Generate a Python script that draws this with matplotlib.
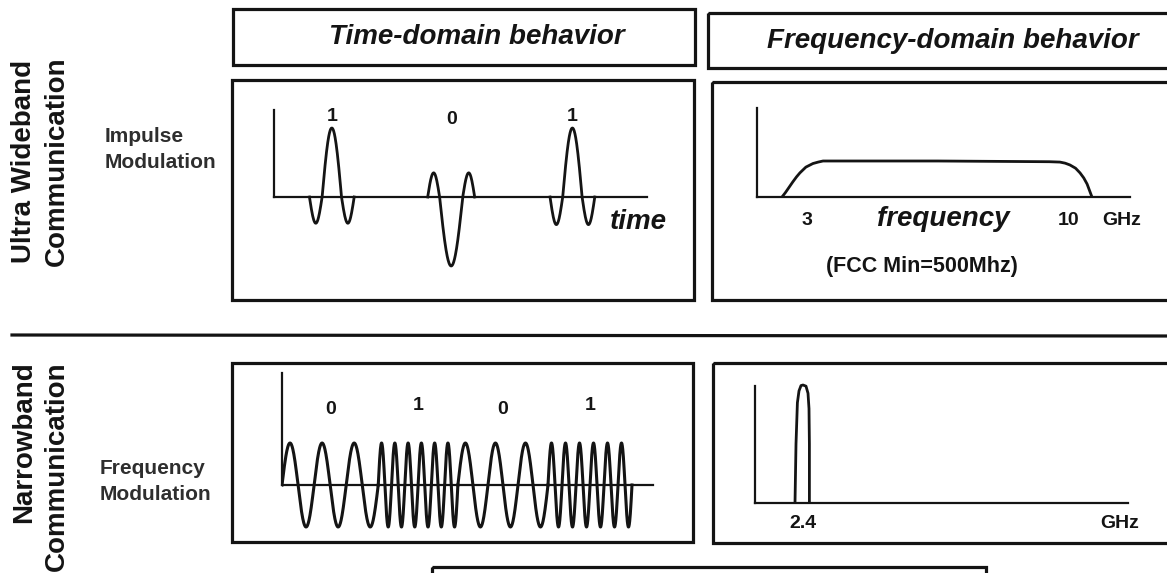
import numpy as np
import matplotlib.pyplot as plt
from matplotlib.patches import Rectangle

plt.rcParams['font.family'] = ['Liberation Sans', 'DejaVu Sans']

W, H = 1167, 573
INK = '#141414'

# labels
row_labels = [["Ultra Wideband", "Communication"], ["Narrowband", "Communication"]]
mod_labels = [["Impulse", "Modulation"], ["Frequency", "Modulation"]]
headers = ["Time-domain behavior", "Frequency-domain behavior"]

# impulse modulation (UWB, time domain)
uwb_bits = [1, 0, 1]
uwb_pulse_times = [1.55, 4.75, 8.0]
uwb_main_lobe = [0.52, 0.62, 0.52]     # width of the central lobe
uwb_side_width = [0.34, 0.32, 0.34]    # width of each side lobe
uwb_side_lobe = [0.38, 0.35, 0.4]      # side lobe height / main lobe height
uwb_time_lim = (0, 10)

# UWB spectrum
uwb_freq = [2.33, 2.42, 2.52, 2.62, 2.72, 2.81, 2.97, 3.16, 3.3, 3.43, 6.5,
            9.5, 9.78, 9.92, 10.05, 10.2, 10.32, 10.42, 10.51, 10.64]
uwb_level = [0, 0.12, 0.27, 0.42, 0.56, 0.67, 0.83, 0.93, 0.97, 1.0, 1.0,
             0.98, 0.97, 0.94, 0.89, 0.8, 0.67, 0.53, 0.36, 0]
uwb_freq_ticks = [3, 10]
uwb_freq_lim = (1.66, 11.66)

# frequency modulation (narrowband, time domain)
nb_bits = [0, 1, 0, 1]
nb_bit_edges = [0, 1.1, 2.01, 3.04, 4.0]
nb_cycles_per_bit = {0: 3, 1: 6}
nb_time_lim = (0, 4.24)

# narrowband spectrum
nb_freq = [2.0, 2.05, 2.12, 2.2, 2.3, 2.4, 2.55, 2.65, 2.7, 2.72, 2.72]
nb_level = [0, 0.5, 0.85, 0.95, 0.995, 1.0, 0.99, 0.93, 0.8, 0.5, 0]
nb_freq_ticks = [2.4]
nb_freq_lim = (0, 18.65)


def px_axes(fig, x0, y0, x1, y1):
    # axes placed by pixel box (y measured from the top)
    a = fig.add_axes([x0 / W, 1 - y1 / H, (x1 - x0) / W, (y1 - y0) / H])
    a.patch.set_alpha(0)
    a.set_xticks([])
    a.set_yticks([])
    for s in ['top', 'right']:
        a.spines[s].set_visible(False)
    for s in ['left', 'bottom']:
        a.spines[s].set_linewidth(1.6)
        a.spines[s].set_color(INK)
    return a


def pulse(t0, sign, wm, ws, r):
    # centre lobe plus one opposite lobe each side
    xm = np.linspace(-wm / 2, wm / 2, 80)
    xs = np.linspace(0, ws, 40)
    x = np.concatenate([-wm / 2 - ws + xs, xm, wm / 2 + xs])
    y = np.concatenate([-r * np.sin(np.pi * xs / ws), np.cos(np.pi * xm / wm),
                        -r * np.sin(np.pi * xs / ws)])
    return t0 + x, sign * y


fig = plt.figure(figsize=(W / 100, H / 100), dpi=100)
ax = fig.add_axes([0, 0, 1, 1])
ax.set_xlim(0, W)
ax.set_ylim(H, 0)
ax.axis('off')

# frames
boxes = [(233, 9, 695, 65), (708, 13, 1185, 68),
         (232, 80, 694, 300), (712, 82, 1185, 300),
         (232, 363, 693, 542), (713, 363, 1185, 543),
         (432, 567, 986, 600)]
for x0, y0, x1, y1 in boxes:
    ax.add_patch(Rectangle((x0, y0), x1 - x0, y1 - y0, fill=False,
                           lw=2.3, ec=INK, clip_on=False))
ax.plot([12, W], [335, 336], color=INK, lw=2.3)

hfont = dict(fontsize=20, fontweight='bold', fontstyle='italic', color=INK,
             ha='center', va='center')
ax.text(477, 37, headers[0], **hfont)
ax.text(953, 41, headers[1], **hfont)

rfont = dict(fontsize=20, fontweight='bold', color=INK, rotation=90, ha='center')
ax.text(24, 161, row_labels[0][0], va='center', **rfont)
ax.text(57, 161, row_labels[0][1], va='center', **rfont)
ax.text(24, 361, row_labels[1][0], va='top', **rfont)
ax.text(57, 361, row_labels[1][1], va='top', **rfont)

mfont = dict(fontsize=15, fontweight='bold', color='#2e2e2e', ha='left', va='center')
ax.text(105, 136, mod_labels[0][0], **mfont)
ax.text(105, 162, mod_labels[0][1], **mfont)
ax.text(100, 469, mod_labels[1][0], **mfont)
ax.text(100, 494, mod_labels[1][1], **mfont)

bit_font = dict(fontsize=14, fontweight='bold', color=INK, ha='center', va='center')

# --- UWB time domain ---
a1 = px_axes(fig, 274, 100, 647, 290)
a1.set_xlim(*uwb_time_lim)
a1.set_ylim(-(290 - 197) / 69, (197 - 100) / 69)
a1.spines['bottom'].set_position(('data', 0))
a1.spines['left'].set_bounds(0, (197 - 110) / 69)
for b, t0, wm, ws, r in zip(uwb_bits, uwb_pulse_times, uwb_main_lobe,
                            uwb_side_width, uwb_side_lobe):
    xx, yy = pulse(t0, 1 if b == 1 else -1, wm, ws, r)
    a1.plot(xx, yy, color=INK, lw=2.0)
    a1.text(t0, 1.16 if b == 1 else 1.12, str(b), **bit_font)
a1.text(9.0, -0.36, "time", fontsize=20, fontweight='bold', fontstyle='italic',
        color=INK, ha='left', va='center', clip_on=False)

# --- UWB frequency domain ---
a2 = px_axes(fig, 757, 108, 1130, 197)
a2.set_xlim(*uwb_freq_lim)
a2.set_ylim(0, (197 - 108) / 36)
a2.plot(uwb_freq, uwb_level, color=INK, lw=2.0, solid_joinstyle='round')
tfont = dict(fontsize=14, fontweight='bold', color=INK, ha='center', va='center')
for f in uwb_freq_ticks:
    a2.text(f, -0.64, str(f), **tfont)
a2.text(11.45, -0.64, "GHz", **tfont)
a2.text(6.65, -0.62, "frequency", fontsize=20, fontweight='bold', fontstyle='italic',
        color=INK, ha='center', va='center')
a2.text(6.08, -1.94, "(FCC Min=500Mhz)", fontsize=15.5, fontweight='bold',
        color=INK, ha='center', va='center')

# --- narrowband time domain (FSK) ---
a3 = px_axes(fig, 282, 373, 653, 535)
a3.set_xlim(*nb_time_lim)
a3.set_ylim(-(535 - 485) / 42, (485 - 373) / 42)
a3.spines['bottom'].set_position(('data', 0))
a3.spines['left'].set_bounds(0, (485 - 373) / 42)
for i, b in enumerate(nb_bits):
    s, e = nb_bit_edges[i], nb_bit_edges[i + 1]
    t = np.linspace(s, e, 400)
    a3.plot(t, np.sin(2 * np.pi * nb_cycles_per_bit[b] * (t - s) / (e - s)),
            color=INK, lw=2.2)
    a3.text((s + e) / 2, 1.8 if b == 0 else 1.9, str(b), **bit_font)

# --- narrowband frequency domain ---
a4 = px_axes(fig, 755, 383, 1128, 503)
a4.set_xlim(*nb_freq_lim)
a4.set_ylim(0, 120 / 118)
a4.spines['left'].set_bounds(0, (503 - 386) / 118)
a4.plot(nb_freq, nb_level, color=INK, lw=2.0, solid_joinstyle='round')
for f in nb_freq_ticks:
    a4.text(f, -0.17, str(f), **tfont)
a4.text(18.25, -0.17, "GHz", **tfont)

fig.savefig('out.png', dpi=100)
